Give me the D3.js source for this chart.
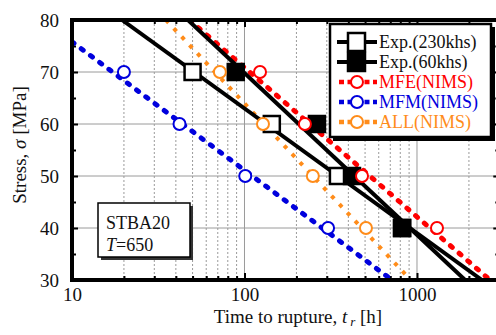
<!doctype html>
<html lang="en">
<head>
  <meta charset="utf-8">
  <title>STBA20 rupture</title>
  <script src="https://d3js.org/d3.v7.min.js"></script>
  <style>
  body { margin: 0; background: #fff; }
  svg { font-family: "Liberation Serif", "Times New Roman", serif; }
  </style>
</head>
<body>
<script>
  // stress levels [MPa] and rupture times [h]
  var stressLevels = [70, 60, 50, 40];
  var exp230 = [50, 144, 348, 820];
  var exp60 = [89, 263, 420, 819];
  var mfe = [123, 224, 480, 1306];
  var mfm = [20, 42, 101, 305];
  var allNims = [72, 128, 249, 506];

  // fitted lines, [time, stress] at both ends
  var exp230Line = [[19.5, 80], [2380, 30]];
  var exp60Line = [[47, 80], [1900, 30]];
  var mfeLine = [[48, 80], [2650, 30]];
  var mfmLine = [[10, 75.8], [716, 30]];
  var allLine = [[35, 80], [920, 30]];

  var xMajor = [10, 100, 1000];
  var yMajor = [30, 40, 50, 60, 70, 80];
  var yMinor = [35, 45, 55, 65, 75];

  var red = "#ff0000", blue = "#0000dd", orange = "#ff8c1a";

  var margin = {top: 20, left: 72},
      width = 427.3, height = 260;

  var x = d3.scaleLog().domain([10, 3000]).range([0, width]);
  var y = d3.scaleLinear().domain([30, 80]).range([height, 0]);

  var xMinor = [];
  [10, 100, 1000].forEach(function(d) {
    for (var k = 2; k <= 9; k++) if (d * k <= 3000) xMinor.push(d * k);
  });

  var svg = d3.select("body").append("svg")
      .attr("width", 496).attr("height", 335);

  svg.append("defs").append("clipPath").attr("id", "plot")
    .append("rect").attr("width", width).attr("height", height);

  var g = svg.append("g")
      .attr("transform", "translate(" + margin.left + "," + margin.top + ")");

  // grid
  g.selectAll(".hgrid").data([40, 50, 60, 70]).enter().append("line")
    .attr("x1", 0).attr("x2", width)
    .attr("y1", d => y(d)).attr("y2", d => y(d))
    .attr("stroke", "#9a9a9a").attr("stroke-width", 1);
  g.selectAll(".vgrid").data(xMinor.concat([100, 1000])).enter().append("line")
    .attr("x1", d => x(d)).attr("x2", d => x(d))
    .attr("y1", 0).attr("y2", height)
    .attr("stroke", "#9a9a9a").attr("stroke-width", 1)
    .attr("stroke-dasharray", d => (d == 100 || d == 1000) ? null : "2,2");

  // axes
  g.append("g")
    .call(d3.axisLeft(y).tickValues(yMajor).tickSize(-6).tickPadding(13));
  g.append("g").call(d3.axisLeft(y).tickValues(yMinor).tickSize(-4).tickFormat(""));
  g.append("g").attr("transform", "translate(" + width + ",0)")
    .call(d3.axisRight(y).tickValues(yMajor).tickSize(-6).tickFormat(""));
  g.append("g").attr("transform", "translate(" + width + ",0)")
    .call(d3.axisRight(y).tickValues(yMinor).tickSize(-4).tickFormat(""));
  g.append("g").attr("transform", "translate(0," + height + ")")
    .call(d3.axisBottom(x).tickValues(xMajor).tickFormat(d3.format("d")).tickSize(-7).tickPadding(8));
  g.append("g").attr("transform", "translate(0," + height + ")")
    .call(d3.axisBottom(x).tickValues(xMinor).tickSize(-4).tickFormat(""));
  g.append("g").call(d3.axisTop(x).tickValues(xMajor).tickSize(-7).tickFormat(""));
  g.append("g").call(d3.axisTop(x).tickValues(xMinor).tickSize(-4).tickFormat(""));
  g.selectAll(".domain").remove();
  g.selectAll(".tick line").attr("stroke", "#000").attr("stroke-width", 2);
  g.selectAll(".tick text").attr("font-size", 19).attr("fill", "#111")
    .attr("font-family", "'Liberation Serif', serif");

  // curves
  var line = d3.line().x(d => x(d[0])).y(d => y(d[1]));
  var curves = g.append("g").attr("clip-path", "url(#plot)");
  curves.append("path").datum(allLine).attr("d", line).attr("fill", "none")
    .attr("stroke", orange).attr("stroke-width", 4).attr("stroke-dasharray", "4,7.5");
  curves.append("path").datum(mfmLine).attr("d", line).attr("fill", "none")
    .attr("stroke", blue).attr("stroke-width", 5).attr("stroke-linecap", "round")
    .attr("stroke-dasharray", "2.5,9");
  curves.append("path").datum(mfeLine).attr("d", line).attr("fill", "none")
    .attr("stroke", red).attr("stroke-width", 5).attr("stroke-linecap", "round")
    .attr("stroke-dasharray", "2.5,9");
  curves.append("path").datum(exp230Line).attr("d", line).attr("fill", "none")
    .attr("stroke", "#000").attr("stroke-width", 4);
  curves.append("path").datum(exp60Line).attr("d", line).attr("fill", "none")
    .attr("stroke", "#000").attr("stroke-width", 4);

  // markers
  function squares(times, fill) {
    g.append("g").selectAll("rect").data(times).enter().append("rect")
      .attr("x", d => x(d) - 8)
      .attr("y", (d, i) => y(stressLevels[i]) - 8)
      .attr("width", 16).attr("height", 16)
      .attr("fill", fill).attr("stroke", "#000").attr("stroke-width", 2.5);
  }
  function circles(times, col) {
    g.append("g").selectAll("circle").data(times).enter().append("circle")
      .attr("cx", d => x(d))
      .attr("cy", (d, i) => y(stressLevels[i]))
      .attr("r", 6).attr("fill", "#fff").attr("stroke", col).attr("stroke-width", 2);
  }
  squares(exp230, "#fff");
  squares(exp60, "#000");
  circles(mfe, red);
  circles(mfm, blue);
  circles(allNims, orange);

  // frame
  g.append("rect").attr("width", width).attr("height", height)
    .attr("fill", "none").attr("stroke", "#000").attr("stroke-width", 4);

  // legend
  var lg = svg.append("g");
  lg.append("rect").attr("x", 333).attr("y", 27).attr("width", 162).attr("height", 114).attr("fill", "#000");
  lg.append("rect").attr("x", 330).attr("y", 24).attr("width", 161).attr("height", 113)
    .attr("fill", "#fff").attr("stroke", "#000").attr("stroke-width", 2.5);
  var legendItems = [
    {label: "Exp.(230khs)", col: "#111", kind: "sq", fill: "#fff"},
    {label: "Exp.(60khs)", col: "#111", kind: "sq", fill: "#000"},
    {label: "MFE(NIMS)", col: red, kind: "ci"},
    {label: "MFM(NIMS)", col: blue, kind: "ci"},
    {label: "ALL(NIMS)", col: orange, kind: "ci"}
  ];
  legendItems.forEach(function(it, i) {
    var yy = 42 + i * 20;
    if (it.kind == "sq") {
      lg.append("line").attr("x1", 337).attr("x2", 377).attr("y1", yy).attr("y2", yy)
        .attr("stroke", "#000").attr("stroke-width", 4);
      lg.append("rect").attr("x", 348).attr("y", yy - 9).attr("width", 17).attr("height", 18)
        .attr("fill", it.fill).attr("stroke", "#000").attr("stroke-width", 2.5);
    } else {
      lg.append("line").attr("x1", 339).attr("x2", 377).attr("y1", yy).attr("y2", yy)
        .attr("stroke", it.col).attr("stroke-width", 4.5)
        .attr("stroke-dasharray", "5,3.5");
      lg.append("circle").attr("cx", 357).attr("cy", yy).attr("r", 6)
        .attr("fill", "#fff").attr("stroke", it.col).attr("stroke-width", 2);
    }
    lg.append("text").attr("x", 379).attr("y", yy + 6).attr("font-size", 18)
      .attr("fill", it.col).text(it.label);
  });

  // material box
  svg.append("rect").attr("x", 101).attr("y", 206).attr("width", 92).attr("height", 54).attr("fill", "#333");
  svg.append("rect").attr("x", 98).attr("y", 203).attr("width", 92).attr("height", 54)
    .attr("fill", "#fff").attr("stroke", "#000").attr("stroke-width", 1.5);
  svg.append("text").attr("x", 106).attr("y", 229).attr("font-size", 18).attr("fill", "#111").text("STBA20");
  var t2 = svg.append("text").attr("x", 106).attr("y", 251).attr("font-size", 18).attr("fill", "#111");
  t2.append("tspan").attr("font-style", "italic").text("T");
  t2.append("tspan").text("=650");

  // axis titles
  var xt = svg.append("text").attr("x", 298).attr("y", 323).attr("text-anchor", "middle")
    .attr("font-size", 19).attr("fill", "#111");
  xt.append("tspan").text("Time to rupture, ");
  xt.append("tspan").attr("font-style", "italic").text("t");
  xt.append("tspan").attr("font-style", "italic").attr("font-size", 13).attr("dy", 3).attr("dx", 3).text("r");
  xt.append("tspan").attr("dy", -3).text(" [h]");

  var yt = svg.append("text").attr("transform", "translate(26,145) rotate(-90)")
    .attr("text-anchor", "middle").attr("font-size", 19).attr("fill", "#111");
  yt.append("tspan").text("Stress, ");
  yt.append("tspan").attr("font-style", "italic").text("σ");
  yt.append("tspan").text(" [MPa]");
</script>
</body>
</html>
